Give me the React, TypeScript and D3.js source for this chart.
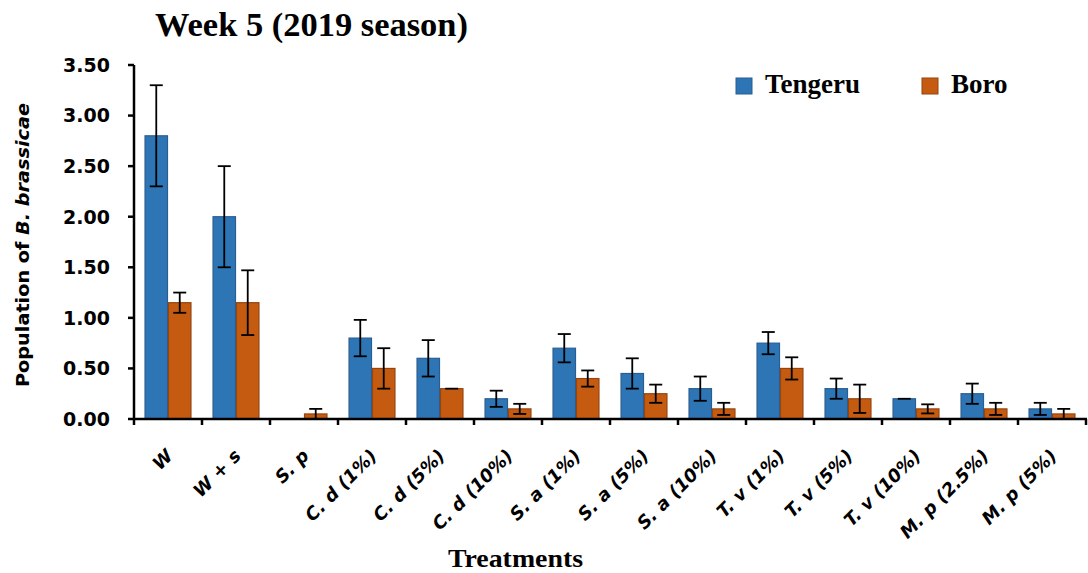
import React from "react";
import * as d3 from "d3";

const categories = ["W", "W + s", "S. p", "C. d (1%)", "C. d (5%)", "C. d (10%)", "S. a (1%)", "S. a (5%)", "S. a (10%)", "T. v (1%)", "T. v (5%)", "T. v (10%)", "M. p (2.5%)", "M. p (5%)"];
const seriesNames = ["Tengeru", "Boro"];
const tengeru = [2.8, 2.0, 0, 0.8, 0.6, 0.2, 0.7, 0.45, 0.3, 0.75, 0.3, 0.2, 0.25, 0.1];
const tengeruErr = [0.5, 0.5, 0, 0.18, 0.18, 0.08, 0.14, 0.15, 0.12, 0.11, 0.1, 0, 0.1, 0.06];
const boro = [1.15, 1.15, 0.05, 0.5, 0.3, 0.1, 0.4, 0.25, 0.1, 0.5, 0.2, 0.1, 0.1, 0.05];
const boroErr = [0.1, 0.32, 0.05, 0.2, 0, 0.05, 0.08, 0.09, 0.06, 0.11, 0.14, 0.045, 0.06, 0.05];
const yTicks = [0, 0.5, 1, 1.5, 2, 2.5, 3, 3.5];

const colors = ["#2E75B6", "#C55A11"];
const strokes = ["#2A5E91", "#96450F"];

export default function App() {
  const W = 1088, H = 573;
  const left = 134, right = 1086, top = 65, bottom = 419;
  const x0 = d3.scaleBand<string>().domain(categories).range([left, right]).paddingInner(0.31).paddingOuter(0.155);
  const x1 = d3.scaleBand<string>().domain(seriesNames).range([0, x0.bandwidth()]);
  const y = d3.scaleLinear().domain([0, 3.5]).range([bottom, top]);
  const step = x0.step();
  const boundaries = d3.range(categories.length + 1).map((i) => left + i * step);
  const data = [
    { name: seriesNames[0], vals: tengeru, errs: tengeruErr },
    { name: seriesNames[1], vals: boro, errs: boroErr },
  ];
  const sans = "'DejaVu Sans', sans-serif";
  const serif = "'Liberation Serif', serif";

  return (
    <svg width={W} height={H} style={{ position: "absolute", left: 0, top: 0, background: "#fff" }}>
      <text x={155} y={36} fontFamily={serif} fontWeight="bold" fontSize={34} textLength={313} lengthAdjust="spacingAndGlyphs" fill="#000">
        Week 5 (2019 season)
      </text>

      {/* bars */}
      {data.map((s, si) => (
        <g key={s.name}>
          {categories.map((c, i) => {
            const v = s.vals[i];
            if (v <= 0) return null;
            const bx = (x0(c) as number) + (x1(s.name) as number);
            return (
              <rect key={c} x={bx + 0.5} y={y(v)} width={x1.bandwidth() - 1} height={y(0) - y(v)} fill={colors[si]} stroke={strokes[si]} strokeWidth={1.2} />
            );
          })}
        </g>
      ))}

      {/* error bars */}
      {data.map((s) => (
        <g key={s.name + "e"} stroke="#000" strokeWidth={1.8}>
          {categories.map((c, i) => {
            const v = s.vals[i];
            const e = s.errs[i];
            if (v <= 0) return null;
            const cx = (x0(c) as number) + (x1(s.name) as number) + x1.bandwidth() / 2;
            const hi = y(v + e), lo = y(Math.max(0, v - e));
            const cw = 6.5;
            return (
              <g key={c}>
                {e > 0 && <line x1={cx} x2={cx} y1={hi} y2={lo} />}
                <line x1={cx - cw} x2={cx + cw} y1={hi} y2={hi} />
                {e > 0 && <line x1={cx - cw} x2={cx + cw} y1={lo} y2={lo} />}
              </g>
            );
          })}
        </g>
      ))}

      {/* y axis */}
      <line x1={left} x2={left} y1={top} y2={bottom + 1} stroke="#000" strokeWidth={2.5} />
      {yTicks.map((t) => (
        <g key={t}>
          <line x1={left - 6} x2={left} y1={y(t)} y2={y(t)} stroke="#000" strokeWidth={2.5} />
          <text x={left - 24} y={y(t)} dy="0.36em" textAnchor="end" fontFamily={sans} fontWeight="bold" fontSize={19} fill="#000">
            {d3.format(".2f")(t)}
          </text>
        </g>
      ))}

      {/* x axis */}
      <line x1={left - 1} x2={right + 1} y1={bottom} y2={bottom} stroke="#000" strokeWidth={2.5} />
      {boundaries.map((b, i) => (
        <line key={i} x1={b} x2={b} y1={bottom} y2={bottom + 6} stroke="#000" strokeWidth={2.5} />
      ))}
      {categories.map((c) => {
        const cx = (x0(c) as number) + x0.bandwidth() / 2;
        return (
          <text key={c} transform={`translate(${cx + 6},${bottom + 38}) rotate(-45)`} textAnchor="end" fontFamily={sans} fontWeight="bold" fontStyle="italic" fontSize={18} fill="#000">
            {c}
          </text>
        );
      })}

      {/* y title */}
      <text transform={`translate(29,245) rotate(-90)`} textAnchor="middle" fontFamily={sans} fontWeight="bold" fontSize={18} textLength={284} lengthAdjust="spacingAndGlyphs" fill="#000">
        Population of <tspan fontStyle="italic">B. brassicae</tspan>
      </text>

      {/* x title */}
      <text x={448} y={567} fontFamily={serif} fontWeight="bold" fontSize={26} textLength={135} lengthAdjust="spacingAndGlyphs" fill="#000">
        Treatments
      </text>

      {/* legend */}
      {seriesNames.map((n, i) => {
        const lx = [736, 922][i];
        return (
          <g key={n}>
            <rect x={lx} y={78} width={16} height={16} fill={colors[i]} stroke={strokes[i]} strokeWidth={1} />
            <text x={lx + 29} y={93} fontFamily={serif} fontWeight="bold" fontSize={27} fill="#000">
              {n}
            </text>
          </g>
        );
      })}
    </svg>
  );
}
